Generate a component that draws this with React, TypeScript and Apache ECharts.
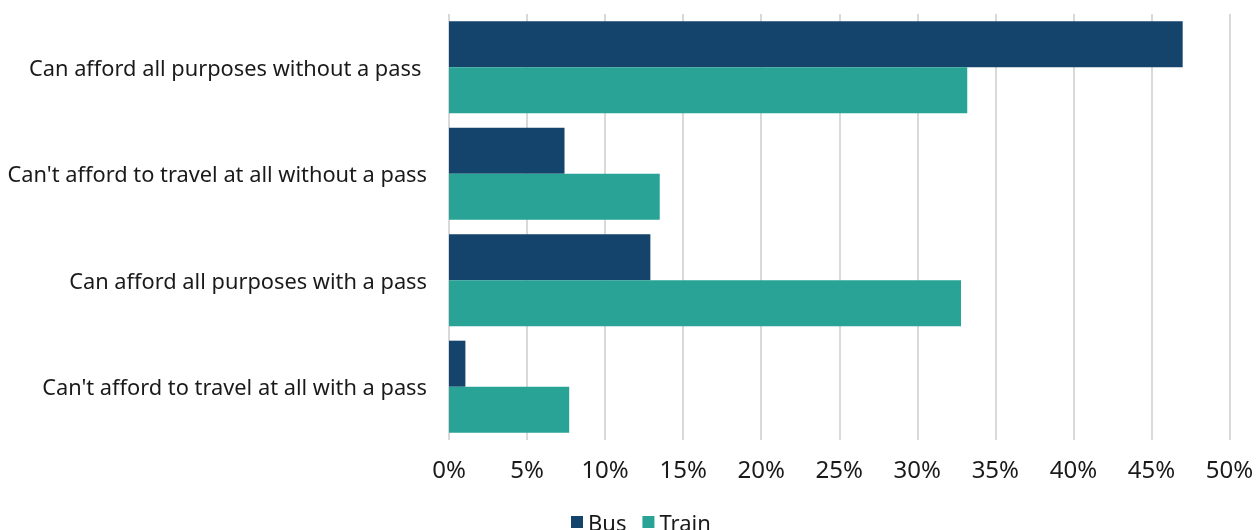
import React, { useEffect, useRef } from "react";
import * as echarts from "echarts";

const categories = [
  "Can afford all purposes without a pass ",
  "Can't afford to travel at all without a pass",
  "Can afford all purposes with a pass",
  "Can't afford to travel at all with a pass",
];
const busValues = [47.0, 7.4, 12.9, 1.05];
const trainValues = [33.2, 13.5, 32.8, 7.7];
const seriesNames = ["Bus", "Train"];

export default function App() {
  const ref = useRef<HTMLDivElement>(null);
  useEffect(() => {
    const chart = echarts.init(ref.current!, null, { renderer: "svg" });
    const font = "'Noto Sans', sans-serif";
    chart.setOption({
      animation: false,
      textStyle: { fontFamily: font },
      grid: { left: 449, right: 29.5, top: 14, bottom: 90, containLabel: false },
      legend: {
        data: seriesNames,
        left: 571,
        top: 511,
        padding: 0,
        itemWidth: 12,
        itemHeight: 12,
        itemGap: 16,
        icon: "rect",
        textStyle: { fontSize: 22, color: "#1a1a1a", fontFamily: font, padding: [0, 0, 0, 0] },
      },
      xAxis: {
        type: "value",
        min: 0,
        max: 50,
        interval: 5,
        axisLine: { show: false },
        axisTick: { show: false },
        splitLine: { show: true, lineStyle: { color: "#d9d9d9", width: 2 } },
        axisLabel: {
          formatter: "{value}%",
          fontSize: 24,
          color: "#1a1a1a",
          margin: 16,
          fontFamily: font,
        },
      },
      yAxis: {
        type: "category",
        data: categories,
        inverse: true,
        axisLine: { show: false },
        axisTick: { show: false },
        axisLabel: { fontSize: 21.8, color: "#1a1a1a", margin: 22, fontFamily: font },
      },
      series: [
        {
          name: seriesNames[0],
          type: "bar",
          data: busValues,
          barGap: "0%",
          barCategoryGap: "13.5%",
          itemStyle: { color: "#14436B" },
        },
        {
          name: seriesNames[1],
          type: "bar",
          data: trainValues,
          barGap: "0%",
          barCategoryGap: "13.5%",
          itemStyle: { color: "#29A396" },
        },
      ],
    });
    return () => chart.dispose();
  }, []);
  return (
    <div
      ref={ref}
      style={{ position: "fixed", left: 0, top: 0, width: 1259, height: 530 }}
    />
  );
}
